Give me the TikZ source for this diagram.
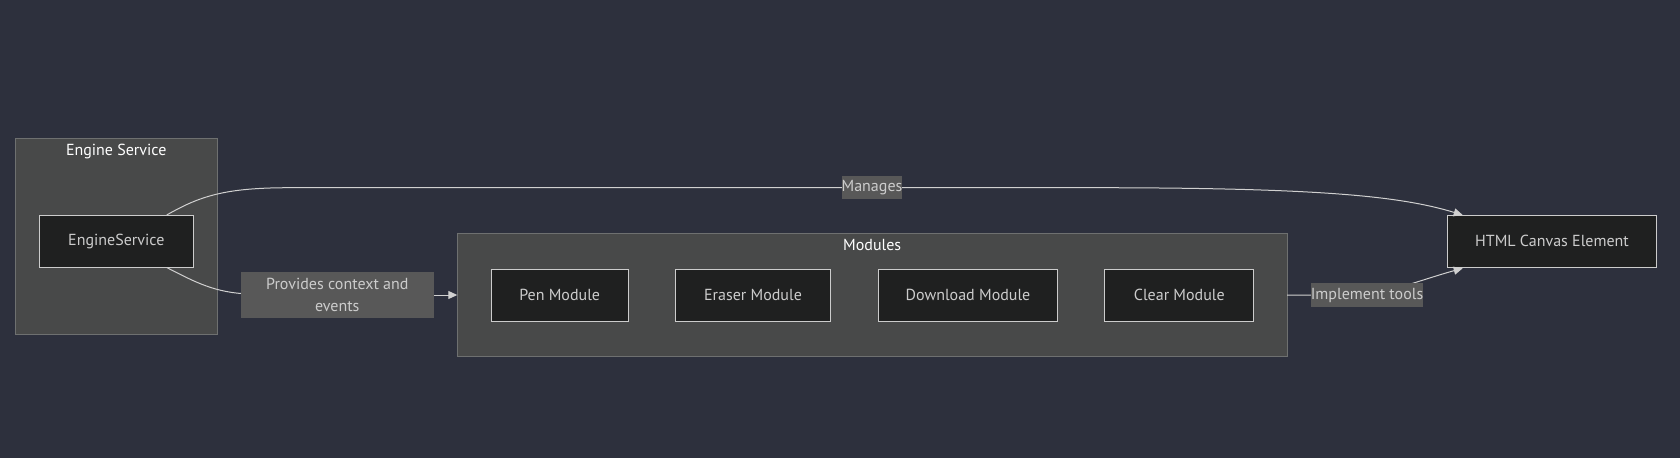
\documentclass[tikz,border=0pt]{standalone}
\usepackage{fontspec}
\setmainfont{PT Sans}
\usetikzlibrary{arrows.meta}
\definecolor{bgcol}{RGB}{45,48,61}
\definecolor{clfill}{RGB}{72,73,73}
\definecolor{clline}{RGB}{110,112,112}
\definecolor{ndfill}{RGB}{31,32,32}
\definecolor{ndline}{RGB}{204,204,204}
\definecolor{lbfill}{RGB}{88,88,88}
\definecolor{edgecol}{RGB}{208,208,208}
\begin{document}
\begin{tikzpicture}[x=1pt, y=-1pt,
  font=\fontsize{16}{22.5}\selectfont,
  cluster/.style={draw=clline, fill=clfill, line width=1pt},
  title/.style={text=white},
  module/.style={draw=ndline, fill=ndfill, text=ndline, line width=1pt, minimum height=52pt, inner sep=0pt},
  elabel/.style={fill=lbfill, text=ndline, inner sep=0pt, minimum height=23.4pt},
  edge/.style={draw=edgecol, line width=1pt},
  tip/.style={-{Triangle[length=9pt, width=8pt]}}]
\fill[bgcol] (0,0) rectangle (1680,458);
\useasboundingbox (0,0) rectangle (1680,458);
% clusters
\draw[cluster] (15.3,138.3) rectangle (217,334);
\node[title] (engtitle) at (116.2,151) {Engine Service};
\draw[cluster] (457.3,233.3) rectangle (1287,356.7);
\node[title] (modtitle) at (872.2,245) {Modules};
% nodes
\node[module, minimum width=154pt] (engine) at (116.3,241.3) {EngineService};
\node[module, minimum width=137.3pt] (pen) at (559.7,295) {Pen Module};
\node[module, minimum width=155.4pt] (eraser) at (753,295) {Eraser Module};
\node[module, minimum width=179.4pt] (download) at (968,295) {Download Module};
\node[module, minimum width=148.7pt] (clear) at (1179.3,295) {Clear Module};
\node[module, minimum width=209.4pt] (canvas) at (1552,241.3) {HTML Canvas Element};
% edge ends
\coordinate (m1) at (166.7,215);
\coordinate (m2) at (1462.7,215);
\coordinate (p1) at (166.7,267.5);
\coordinate (p2) at (457.3,295);
\coordinate (i1) at (1287,295);
\coordinate (i2) at (1462.7,268.3);
% edges
\draw[edge, tip] (m1) .. controls (200,196) and (225,187.7) .. (290,187.7)
  -- (1100,187.7) .. controls (1320,188) and (1400,196) .. (m2);
\draw[edge] (p1) .. controls (195,282) and (215,293) .. (250,294);
\draw[edge, tip] (400,295) -- (p2);
\draw[edge, tip] (i1) -- (1350,295) .. controls (1385,295) and (1420,280) .. (i2);
% edge labels
\node[elabel, minimum width=57.7pt] (manages) at (872,187.7) {Manages};
\node[elabel, minimum width=192.7pt, minimum height=46pt, align=center] (provides) at (337.3,295) {Provides context and\\events};
\node[elabel, minimum width=112.3pt] (implement) at (1367,295) {Implement tools};
\end{tikzpicture}
\end{document}
